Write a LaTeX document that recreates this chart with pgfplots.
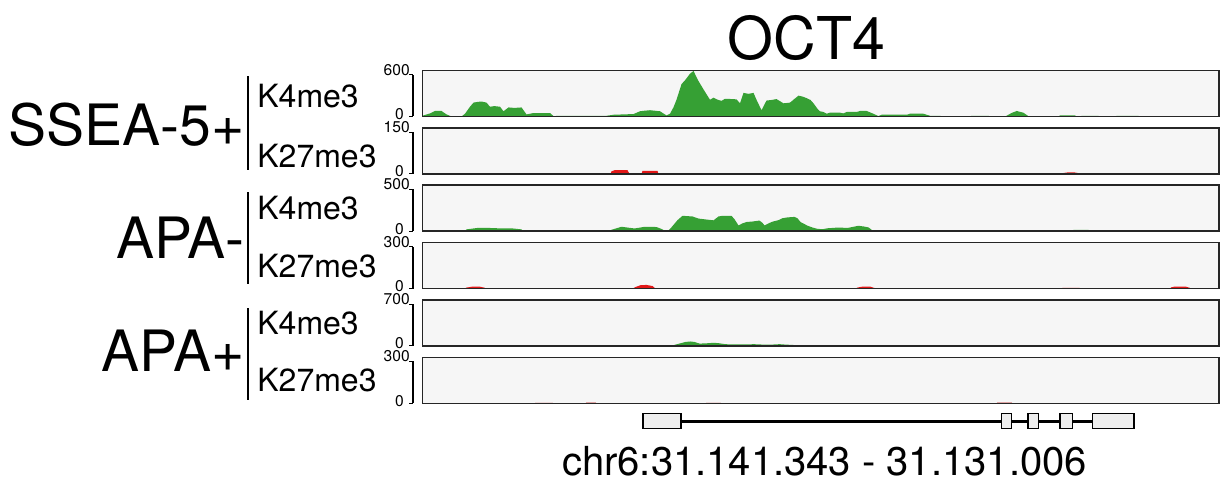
\documentclass[border=0pt]{standalone}
\usepackage{pgfplots}
\pgfplotsset{compat=1.18}
\usepackage{fontspec}
\setmainfont{TeX Gyre Heros}
\definecolor{trgreen}{RGB}{54,160,52}
\definecolor{trred}{RGB}{226,24,24}
\definecolor{trbg}{RGB}{246,246,246}
\definecolor{exonfill}{RGB}{238,238,238}
\pgfplotsset{
  track/.style n args={3}{
    at={(211.25bp,#1)}, anchor=north west,
    scale only axis, width=398.25bp, height=23bp,
    xmin=0, xmax=796.5, ymin=0, ymax=#3,
    axis background/.style={fill=trbg},
    axis line style={line width=0.75bp, draw=black!85},
    axis on top, clip=false,
    xtick=\empty, ytick={0}, yticklabels={0},
    extra y ticks={#2}, extra y tick labels={#2},
    tick pos=left, ytick pos=left,
    tick align=outside, major tick length=1.8bp,
    ytick style={line width=0.5bp, black, xshift=-4.75bp},
    yticklabel style={font=\fontsize{7.8bp}{8bp}\selectfont, anchor=east, xshift=-7bp, yshift=1.3bp, inner sep=0.4bp},
    extra y tick style={tick pos=left, yticklabel style={anchor=south east, xshift=3bp, yshift=-2.2bp}},
  },
}
\newcommand{\yaxisline}{\draw[line width=0.6bp, black] ([xshift=-4.75bp]rel axis cs:0,0) -- ([xshift=-4.75bp]rel axis cs:0,0.909);}
\begin{document}
\begin{tikzpicture}
\path[use as bounding box] (0,0) rectangle (610bp,-242bp);

% ---------- Track 1: SSEA-5+ K4me3 ----------
\begin{axis}[track={-35.25bp}{600}{660}]
\addplot[fill=trgreen, draw=none] table {
x y
0 0
0.8 15
7.5 44
12.5 79
19 79
24 30
29 0
39 0
42.5 40
47.5 140
51 199
55 209
59 215
64 199
67.5 140
72 149
77.5 140
81 75
86 130
92 123
99 130
104 30
111 50
127.5 50
131 6
141 10
184 10
191 25
211 35
217.5 75
222 83
227.5 90
237.5 75
244 15
247.5 40
251 132
254 240
259 464
263 528
267.5 614
271 653
276 508
281 389
287.5 240
291 270
295 242
299 224
302.5 254
308 251
314 246
317.5 189
321 339
326 325
331 339
334 240
339 90
344 229
349 237
354 250
361 189
367.5 199
372 253
376 299
380 286
384 264
388 237
391 189
395 110
397.5 75
400.8 65
404.2 40
407.5 55
417.5 55
420.8 44
424.2 65
434.2 65
437.5 79
444.2 79
450.8 40
455.8 6
459.2 25
484.2 25
487.5 40
500.8 40
507.5 10
517.5 10
519.2 0
547.5 0
549.2 10
565.8 10
567.5 0
582.5 0
584.2 11
589 50
594.2 79
600.8 55
605.8 6
607.5 0
635.8 0
637.5 15
652.5 15
654 0
660.8 10
675.8 10
677 0
700.8 10
715.8 10
717 0
796.5 0
} \closedcycle;
\yaxisline
\end{axis}

% ---------- Track 2: SSEA-5+ K27me3 ----------
\begin{axis}[track={-63.925bp}{150}{165}]
\addplot[fill=trred, draw=none] table {
x y
0 0
2.5 2
17.5 2
18 0
140 0
141 2
154 2
155 0
188 0
189 9
192 13
205 13
207 0
219 0
220 11
235 11
236 0
354 0
355 1.5
372 1.5
373 0
484 0
485 2
500 2
501 0
596 0
597 2
612 2
613 0
640 0
641 3
645 5
652 5
657 2
658 0
785 0
786 2
796.5 2
} \closedcycle;
\yaxisline
\end{axis}

% ---------- Track 3: APA- K4me3 ----------
\begin{axis}[track={-92.6bp}{500}{550}]
\addplot[fill=trgreen, draw=none] table {
x y
0 0
42 0
44 22
55 39
62 41
75 35
90 33
99 22
101 0
142 0
143 11
160 11
161 0
186 0
189 17
199 53
206 42
212 33
218 44
222 53
234 50
240 22
242.4 0
245 0
248 33
255 132
260 184
270 176
276 151
285 138
291 130
296 176
300 184
309 184
312 143
316 69
320 94
324 110
330 116
337 127
340 99
342 69
347 99
350 114
356 132
360 155
365 165
372 171
375 154
378 110
385 66
390 44
395 28
400 24
405 35
416 44
421 41
426 41
436 65
442 55
446 45
451 0
474 0
475 8
489 8
490 0
502 0
503 12
515 12
516 0
625 0
626 8
640 8
641 0
650 0
651 17
666 17
667 0
796.5 0
} \closedcycle;
\yaxisline
\end{axis}

% ---------- Track 4: APA- K27me3 ----------
\begin{axis}[track={-121.275bp}{300}{330}]
\addplot[fill=trred, draw=none] table {
x y
0 0
42 0
44 7
50 14
57 14
62 6
63 0
210 0
213 11
218 24
224 26
230 18
233 0
366 0
367 3
384 3
385 0
433 0
435 7
440 14
448 13
452 4
453 0
639 0
640 5
657 5
658 0
720 0
721 2
734 2
735 0
747 0
749 9
752 14
763 14
767 6
768 0
790 0
791 3
796.5 3
} \closedcycle;
\yaxisline
\end{axis}

% ---------- Track 5: APA+ K4me3 ----------
\begin{axis}[track={-149.95bp}{700}{770}]
\addplot[fill=trgreen, draw=none] table {
x y
0 0
37 0
38 7
50 7
51 0
120 0
121 4
137 4
138 0
248 0
252 17
258 44
263 66
268 74
272 66
277 39
283 42
291 52
296 46
301 33
307 24
315 26
325 24
331 29
338 24
344 20
352 24
357 29
363 22
369 17
375 11
381 0
729 0
731 13
743 13
745 0
796.5 0
} \closedcycle;
\yaxisline
\end{axis}

% ---------- Track 6: APA+ K27me3 ----------
\begin{axis}[track={-178.625bp}{300}{330}]
\addplot[fill=trred!80!black, draw=none] table {
x y
0 0
112 0
113 3
130 3
131 0
163 0
164 5
173 5
174 0
283 0
284 3
298 3
299 0
574 0
575 5
589 5
590 0
796.5 0
} \closedcycle;
\yaxisline
\end{axis}

% ---------- Gene model ----------
\begin{axis}[at={(211.25bp,-206.8bp)}, anchor=north west,
  scale only axis, width=398.25bp, height=7.5bp,
  xmin=0, xmax=796.5, ymin=0, ymax=1, axis lines=none, clip=false]
\addplot[line width=1.5bp, black] coordinates {(219.5,0.5) (712.5,0.5)};
\addplot[fill=exonfill, draw=black, line width=0.6bp] coordinates {(220.5,0) (258.5,0) (258.5,1) (220.5,1)} -- cycle;
\addplot[fill=exonfill, draw=black, line width=0.6bp] coordinates {(579.3,0) (588.9,0) (588.9,1) (579.3,1)} -- cycle;
\addplot[fill=exonfill, draw=black, line width=0.6bp] coordinates {(605.5,0) (616.1,0) (616.1,1) (605.5,1)} -- cycle;
\addplot[fill=exonfill, draw=black, line width=0.6bp] coordinates {(637.5,0) (650,0) (650,1) (637.5,1)} -- cycle;
\addplot[fill=exonfill, draw=black, line width=0.6bp] coordinates {(670,0) (711.5,0) (711.5,1) (670,1)} -- cycle;
\end{axis}

% ---------- Labels ----------
\node[anchor=base, font=\fontsize{29.5bp}{30bp}\selectfont, inner sep=0] at (403.25bp,-29.5bp) {OCT4};
\node[anchor=base, font=\fontsize{20bp}{21bp}\selectfont, inner sep=0] at (412.25bp,-237.5bp) {chr6:31.141.343 - 31.131.006};

\begin{scope}[every node/.style={inner sep=0}]
\node[anchor=base east, font=\fontsize{28.5bp}{29bp}\selectfont] at (122.5bp,-72.5bp) {SSEA-5+};
\node[anchor=base east, font=\fontsize{28.5bp}{29bp}\selectfont] at (122.5bp,-129bp) {APA-};
\node[anchor=base east, font=\fontsize{28.5bp}{29bp}\selectfont] at (122.5bp,-185.5bp) {APA+};
\draw[line width=1bp] (124bp,-38bp) -- (124bp,-85bp);
\draw[line width=1bp] (124bp,-96bp) -- (124bp,-142bp);
\draw[line width=1bp] (124bp,-154bp) -- (124bp,-200bp);
\node[anchor=base west, font=\fontsize{16bp}{17bp}\selectfont] at (128.5bp,-53.5bp) {K4me3};
\node[anchor=base west, font=\fontsize{16bp}{17bp}\selectfont] at (128.5bp,-83.5bp) {K27me3};
\node[anchor=base west, font=\fontsize{16bp}{17bp}\selectfont] at (128.5bp,-109.5bp) {K4me3};
\node[anchor=base west, font=\fontsize{16bp}{17bp}\selectfont] at (128.5bp,-138.5bp) {K27me3};
\node[anchor=base west, font=\fontsize{16bp}{17bp}\selectfont] at (128.5bp,-167bp) {K4me3};
\node[anchor=base west, font=\fontsize{16bp}{17bp}\selectfont] at (128.5bp,-195.5bp) {K27me3};
\end{scope}
\end{tikzpicture}
\end{document}
